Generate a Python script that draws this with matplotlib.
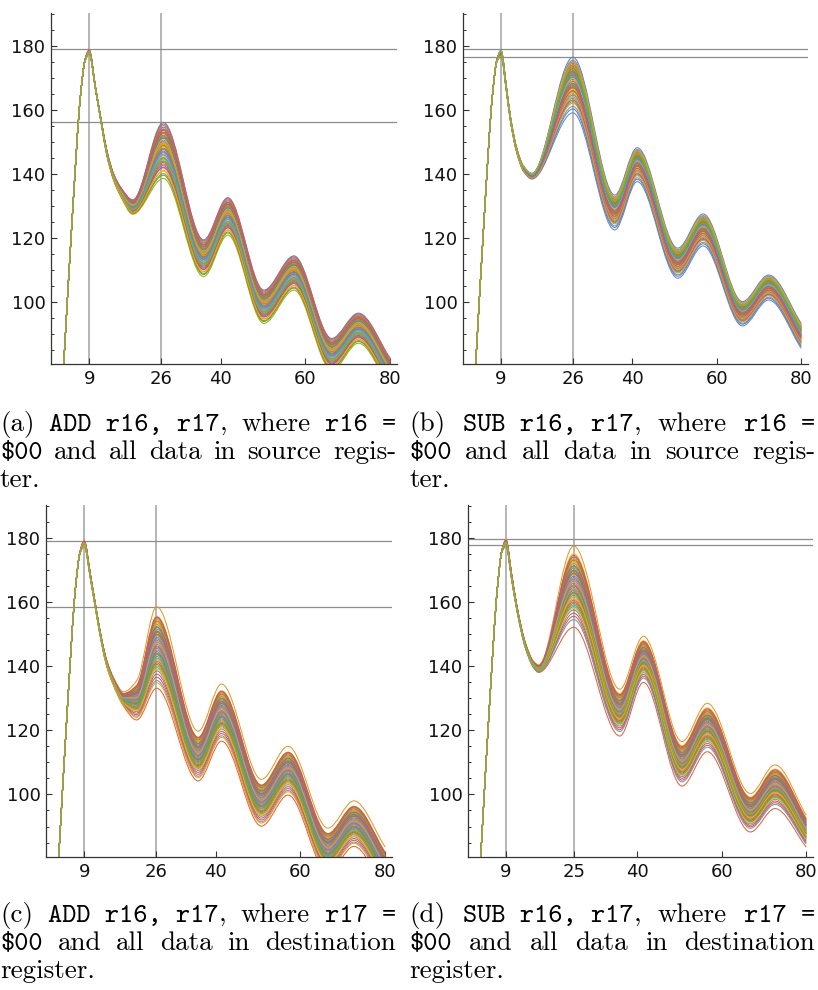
import matplotlib as mpl
mpl.use('Agg')
import matplotlib.pyplot as plt
import matplotlib.ticker as tick
from matplotlib.path import Path
from matplotlib.patches import PathPatch
import numpy as np

# Mathematica default colour list (ColorData 97)
palette = ['#5E81B5', '#E19C24', '#8FB032', '#EB6235', '#8778B3', '#C56E1A', '#5D9EC7', '#FFBF00',
           '#A5609D', '#929600', '#E95536', '#6685D9', '#F89F13', '#BC5B80', '#47B66D']

#------------------------------------------------------------------------------
# upper / lower envelope of the traces, read at the knots of each panel
x_a  = [3.0, 5.0, 7.0, 8.0, 9.0, 10.5, 12.0, 13.2, 14.8, 16.4, 19.3, 26.5, 36.0, 41.7, 50.2, 57.3, 66.2, 72.5, 80.0]
hi_a = [80.5, 126.0, 165.0, 175.5, 178.6, 167.0, 155.5, 147.0, 139.8, 135.8, 131.8, 156.0, 119.3, 132.5, 103.6, 114.3, 88.5, 96.4, 82.3]
lo_a = [80.5, 126.0, 165.0, 175.0, 177.4, 166.2, 154.5, 145.5, 137.8, 133.0, 127.3, 138.5, 107.8, 120.8, 93.2, 103.6, 78.5, 87.0, 73.0]

x_b  = [3.0, 5.0, 7.0, 8.0, 9.0, 10.3, 11.2, 12.7, 14.3, 16.3, 26.0, 35.9, 41.2, 50.8, 56.8, 66.1, 72.3, 80.0]
hi_b = [80.5, 126.0, 165.0, 175.5, 178.6, 166.8, 158.0, 148.0, 142.4, 140.1, 176.4, 133.3, 148.1, 116.7, 127.4, 100.0, 108.3, 93.2]
lo_b = [80.5, 126.0, 165.0, 175.0, 176.5, 165.3, 156.5, 146.6, 140.7, 138.3, 159.0, 122.4, 137.5, 107.3, 117.4, 92.4, 100.5, 85.4]

x_c  = [3.0, 5.0, 7.0, 8.0, 9.0, 10.5, 11.9, 13.2, 14.3, 15.9, 18.3, 21.4, 26.1, 35.9, 41.4, 50.8, 57.1, 66.5, 72.6, 80.0]
hi_c = [80.5, 126.0, 165.0, 175.5, 179.2, 168.5, 157.5, 148.0, 142.0, 136.5, 132.0, 135.5, 158.5, 119.7, 134.4, 104.7, 115.0, 89.5, 98.0, 83.6]
lo_c = [80.5, 126.0, 165.0, 175.0, 177.3, 167.0, 156.0, 146.5, 140.0, 134.0, 127.5, 123.2, 133.1, 104.2, 116.6, 90.1, 99.8, 75.5, 83.8, 70.0]

x_d  = [3.0, 5.0, 7.0, 8.0, 9.0, 10.3, 11.6, 13.6, 15.5, 16.7, 25.0, 35.9, 41.5, 50.6, 56.6, 66.8, 72.6, 80.0]
hi_d = [80.5, 126.0, 165.0, 176.0, 179.5, 169.0, 158.6, 147.2, 141.5, 140.4, 177.4, 132.8, 149.3, 116.5, 128.4, 100.3, 109.2, 93.5]
lo_d = [80.5, 126.0, 165.0, 175.5, 177.3, 167.0, 157.0, 145.5, 139.5, 138.0, 152.1, 118.2, 134.9, 102.6, 113.3, 88.3, 95.6, 83.6]

# height of every trace at the second peak (x = 26 / 25), in drawing order
peaks_a = [156.0, 149.5, 138.5, 151.0, 145.0, 152.5, 147.0, 141.0, 153.5, 148.0, 143.5, 150.5, 146.0, 154.5, 140.0, 151.5,
           144.5, 149.0, 152.0, 142.5, 147.5, 155.0, 145.5, 150.0, 139.5, 153.0, 146.5, 148.5, 143.0, 151.8, 144.0, 149.8,
           154.0, 141.8, 147.8, 152.8, 145.8, 150.8, 142.0, 148.8, 155.5, 146.8, 140.8, 153.8, 144.8, 151.2, 149.2, 143.8]
peaks_b = [176.4, 170.5, 165.0, 172.0, 167.5, 173.5, 161.0, 168.5, 174.5, 166.0, 171.0, 159.0, 169.0, 175.0, 163.5, 160.2,
           172.5, 167.0, 170.0, 164.5, 173.0, 168.0, 166.5, 171.5, 162.5, 174.0, 169.5, 165.5, 172.8, 167.8, 170.8, 164.0,
           173.8, 168.8, 171.8, 166.8, 175.5, 169.8, 163.0, 172.2, 167.2, 170.2, 174.8, 165.8, 171.2, 168.2, 162.0, 173.2]
peaks_c = [149.0, 158.5, 143.5, 133.1, 152.0, 146.0, 139.5, 155.5, 141.0, 150.5, 136.5, 147.5, 153.5, 144.5, 151.0, 148.0,
           142.0, 154.5, 145.5, 138.5, 150.0, 135.5, 152.8, 146.8, 140.5, 155.0, 143.0, 149.5, 137.5, 151.5, 144.0, 147.0,
           153.0, 141.5, 148.5, 154.0, 145.0, 139.0, 152.3, 143.8, 150.8, 146.3, 134.8, 155.3, 142.5, 149.8, 147.8, 140.0]
peaks_d = [168.0, 177.4, 162.5, 152.1, 171.0, 165.0, 158.5, 175.0, 160.0, 169.5, 155.5, 166.5, 172.5, 163.5, 170.0, 167.0,
           161.0, 173.5, 164.5, 157.5, 169.0, 154.5, 171.8, 165.8, 159.5, 174.0, 162.0, 168.5, 156.5, 170.5, 163.0, 166.0,
           172.0, 160.5, 167.5, 173.0, 164.0, 158.0, 171.3, 162.8, 169.8, 165.3, 161.5, 174.5, 159.0, 168.8, 166.8, 163.8]

hlines_a = [179.0, 156.0]; vlines_a = [9, 26]; xticks_a = [9, 26, 40, 60, 80]
hlines_b = [179.0, 176.4]; vlines_b = [9, 26]; xticks_b = [9, 26, 40, 60, 80]
hlines_c = [179.0, 158.3]; vlines_c = [9, 26]; xticks_c = [9, 26, 40, 60, 80]
hlines_d = [179.6, 177.6]; vlines_d = [9, 25]; xticks_d = [9, 25, 40, 60, 80]
yticks = [100, 120, 140, 160, 180]

#------------------------------------------------------------------------------
def smooth_path(xs, ys):
    # monotone cubic through the knots, handed to matplotlib as bezier segments
    xs = np.asarray(xs, float); ys = np.asarray(ys, float)
    h = np.diff(xs); d = np.diff(ys)/h
    m = np.zeros_like(ys)
    m[0] = d[0]; m[-1] = d[-1]
    for k in range(1, len(xs)-1):
        if d[k-1]*d[k] > 0:
            w1 = 2*h[k] + h[k-1]; w2 = h[k] + 2*h[k-1]
            m[k] = (w1 + w2)/(w1/d[k-1] + w2/d[k])
    verts = [(xs[0], ys[0])]; codes = [Path.MOVETO]
    for k in range(len(h)):
        verts += [(xs[k] + h[k]/3, ys[k] + m[k]*h[k]/3),
                  (xs[k+1] - h[k]/3, ys[k+1] - m[k+1]*h[k]/3),
                  (xs[k+1], ys[k+1])]
        codes += [Path.CURVE4]*3
    return Path(verts, codes)

def panel(fig, rect_px, xs, hi, lo, peaks, peak_x, hlines, vlines, xticks):
    W, H = 818.0, 990.0
    l, r, t, b = rect_px
    ax = fig.add_axes([l/W, 1 - b/H, (r - l)/W, (b - t)/H])
    k = xs.index(peak_x)
    for i, p in enumerate(peaks):
        w = (p - lo[k])/(hi[k] - lo[k])
        ys = [lv + w*(hv - lv) for hv, lv in zip(hi, lo)]
        ax.add_patch(PathPatch(smooth_path(xs, ys), fill=False, edgecolor=palette[i % len(palette)],
                               lw=0.75, zorder=2, joinstyle='round'))
    for v in vlines: ax.axvline(v, color='#a9a9a9', lw=1.2, zorder=1)
    for hl in hlines: ax.axhline(hl, color='#8c8c8c', lw=0.9, zorder=1)

    ax.set_xlim(0, 81.6)
    ax.set_ylim(80.5, 190.2)
    ax.set_xticks(xticks)
    ax.set_yticks(yticks)
    ax.yaxis.set_minor_locator(tick.MultipleLocator(5))
    for s in ['top', 'right']: ax.spines[s].set_visible(False)
    for s in ['left', 'bottom']:
        ax.spines[s].set_color('#333333'); ax.spines[s].set_linewidth(0.9)
    ax.tick_params(which='major', direction='in', length=4, width=0.8, color='#333333', labelsize=13, pad=4, labelcolor='#111111')
    ax.tick_params(which='minor', direction='in', length=2.2, width=0.7, color='#333333')
    return ax

def caption(fig, renderer, left, right, baselines, lines, size):
    # lay the words out by hand, stretching the gaps of justified lines
    W, H = fig.bbox.width, fig.bbox.height
    space = 0.333*size*fig.dpi/72
    for (words, justify), yb in zip(lines, baselines):
        objs = []; widths = []
        for word in words:
            frag = []; wsum = 0
            for txt, fam in word:
                t = fig.text(0, 1 - yb/H, txt, fontsize=size, family=fam, va='baseline', ha='left', parse_math=False)
                fw = t.get_window_extent(renderer).width
                frag.append((t, fw)); wsum += fw
            objs.append(frag); widths.append(wsum)
        if justify and len(words) > 1:
            gap = (right - left - sum(widths))/(len(words) - 1)
        else:
            gap = space
        x = left
        for frag, wsum in zip(objs, widths):
            xx = x
            for t, fw in frag:
                t.set_x(xx/W); xx += fw
            x += wsum + gap

R = 'cmr10'; T = 'cmtt10'
def cap_lines(label, op, reg, where, last_word, tail):
    line1 = [[('(' + label + ')', R)], [(op + ' r16, r17', T), (',', R)],
             [('where', R)], [(reg + ' =', T)]]
    line2 = [[('$00', T)]] + [[(w, R)] for w in where] + [[(last_word, R)]]
    line3 = [[(tail, R)]]
    return [(line1, True), (line2, True), (line3, False)]

#------------------------------------------------------------------------------
fig = plt.figure(figsize=(8.18, 9.9), dpi=100)

panel(fig, (51, 397, 13, 364), x_a, hi_a, lo_a, peaks_a, 26.5, hlines_a, vlines_a, xticks_a)
panel(fig, (463, 808, 13, 364), x_b, hi_b, lo_b, peaks_b, 26.0, hlines_b, vlines_b, xticks_b)
panel(fig, (46, 392, 505, 857), x_c, hi_c, lo_c, peaks_c, 26.1, hlines_c, vlines_c, xticks_c)
panel(fig, (468, 813, 505, 857), x_d, hi_d, lo_d, peaks_d, 25.0, hlines_d, vlines_d, xticks_d)

renderer = fig.canvas.get_renderer()
size = 19.5
caption(fig, renderer, 0, 396, [431, 459, 487],
        cap_lines('a', 'ADD', 'r16', ['and', 'all', 'data', 'in', 'source'], 'regis-', 'ter.'), size)
caption(fig, renderer, 409.5, 815, [431, 459, 487],
        cap_lines('b', 'SUB', 'r16', ['and', 'all', 'data', 'in', 'source'], 'regis-', 'ter.'), size)
caption(fig, renderer, 0, 396, [922, 950, 978],
        cap_lines('c', 'ADD', 'r17', ['and', 'all', 'data', 'in'], 'destination', 'register.'), size)
caption(fig, renderer, 409.5, 815, [922, 950, 978],
        cap_lines('d', 'SUB', 'r17', ['and', 'all', 'data', 'in'], 'destination', 'register.'), size)

plt.savefig('out.png', dpi=100)
